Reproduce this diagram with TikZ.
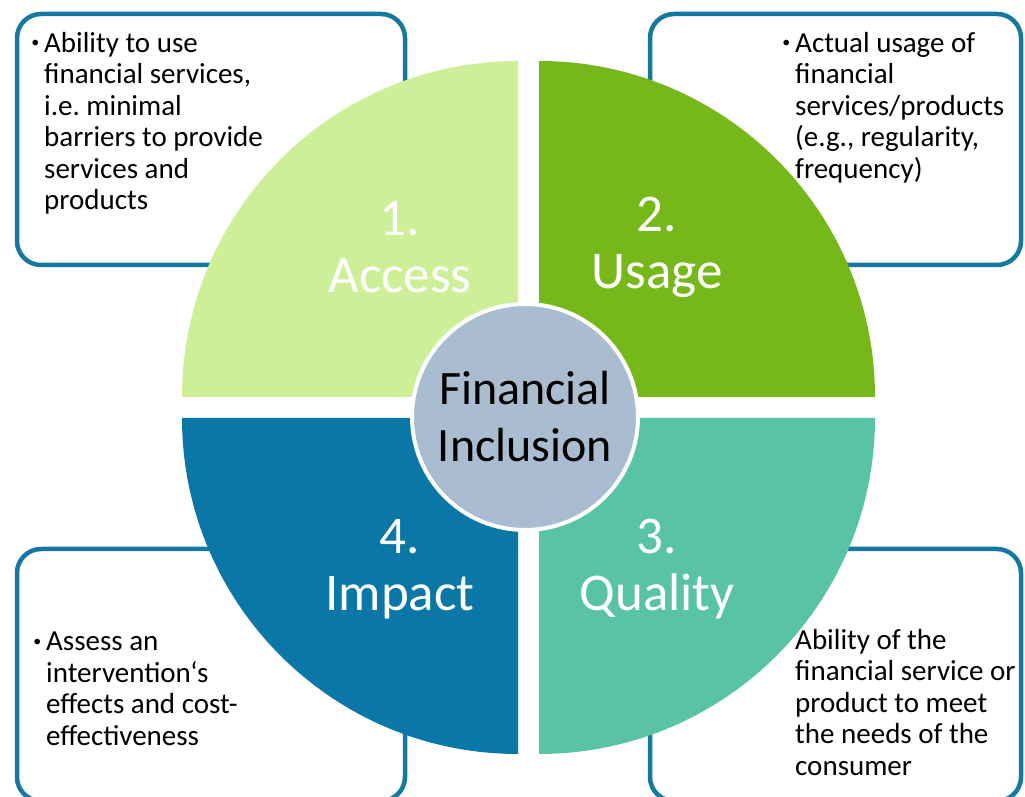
\documentclass[tikz,border=0pt]{standalone}
\usepackage{fontspec}
\setmainfont{Carlito}
\usepackage{tikz}
\definecolor{accessgreen}{HTML}{CDEF98}
\definecolor{usagegreen}{HTML}{76B81A}
\definecolor{qualityteal}{HTML}{58C4A5}
\definecolor{impactblue}{HTML}{0A77A6}
\definecolor{hubgray}{HTML}{AABCCF}
\definecolor{boxblue}{HTML}{1478A0}
\newcommand{\dotmark}{\llap{\raisebox{0.15em}{\scalebox{0.55}{\textbullet}}\hspace{5pt}}}
\tikzset{
    infobox/.style={draw=boxblue, fill=white, line width=4.5pt, rounded corners=24pt},
    infotext/.style={anchor=north west, align=left, inner sep=0pt, font=\fontsize{29}{31.5}\selectfont\frenchspacing},
    quadlabel/.style={align=center, text=white, inner sep=0pt, font=\fontsize{53}{57}\selectfont},
    hub/.style={circle, fill=hubgray, draw=white, line width=4pt, minimum size=226pt, align=center, font=\fontsize{48}{57}\selectfont}}

\begin{document}
\begin{tikzpicture}[x=1pt, y=1pt]

            \useasboundingbox (0,0) rectangle (1025,797);

            \draw[infobox] (17,532) rectangle (405,783);
            \draw[infobox] (650,532) rectangle (1021,783);
            \draw[infobox] (17,-4) rectangle (405,248);
            \draw[infobox] (650,-4) rectangle (1021,248);

            \fill[accessgreen] (518,400) -- ++(-336,0) arc[start angle=180, end angle=90, radius=336] -- cycle;
            \fill[usagegreen] (539,400) -- ++(0,336) arc[start angle=90, end angle=0, radius=336] -- cycle;
            \fill[qualityteal] (539,379) -- ++(336,0) arc[start angle=0, end angle=-90, radius=336] -- cycle;
            \fill[impactblue] (518,379) -- ++(0,-336) arc[start angle=-90, end angle=-180, radius=336] -- cycle;

            \node[infotext] (accesstext) at (44,765) {\dotmark Ability to use\\financial services,\\i.e. minimal\\barriers to provide\\services and\\products};
            \node[infotext] (usagetext) at (795,765) {\dotmark Actual usage of\\financial\\services/products\\(e.g., regularity,\\frequency)};
            \node[infotext] (impacttext) at (46,165) {\dotmark Assess an\\intervention‘s\\effects and cost-\\effectiveness};
            \node[infotext] (qualitytext) at (795,168) {Ability of the\\financial service or\\product to meet\\the needs of the\\consumer};

            \node[quadlabel] (access) at (400,550) {1.\\Access};
            \node[quadlabel] (usage) at (657,550) {2.\\Usage};
            \node[quadlabel] (impact) at (400,228) {4.\\Impact};
            \node[quadlabel] (quality) at (657,228) {3.\\Quality};

            \node[hub] (fi) at (525,380) {Financial\\Inclusion};

        \end{tikzpicture}
\end{document}
